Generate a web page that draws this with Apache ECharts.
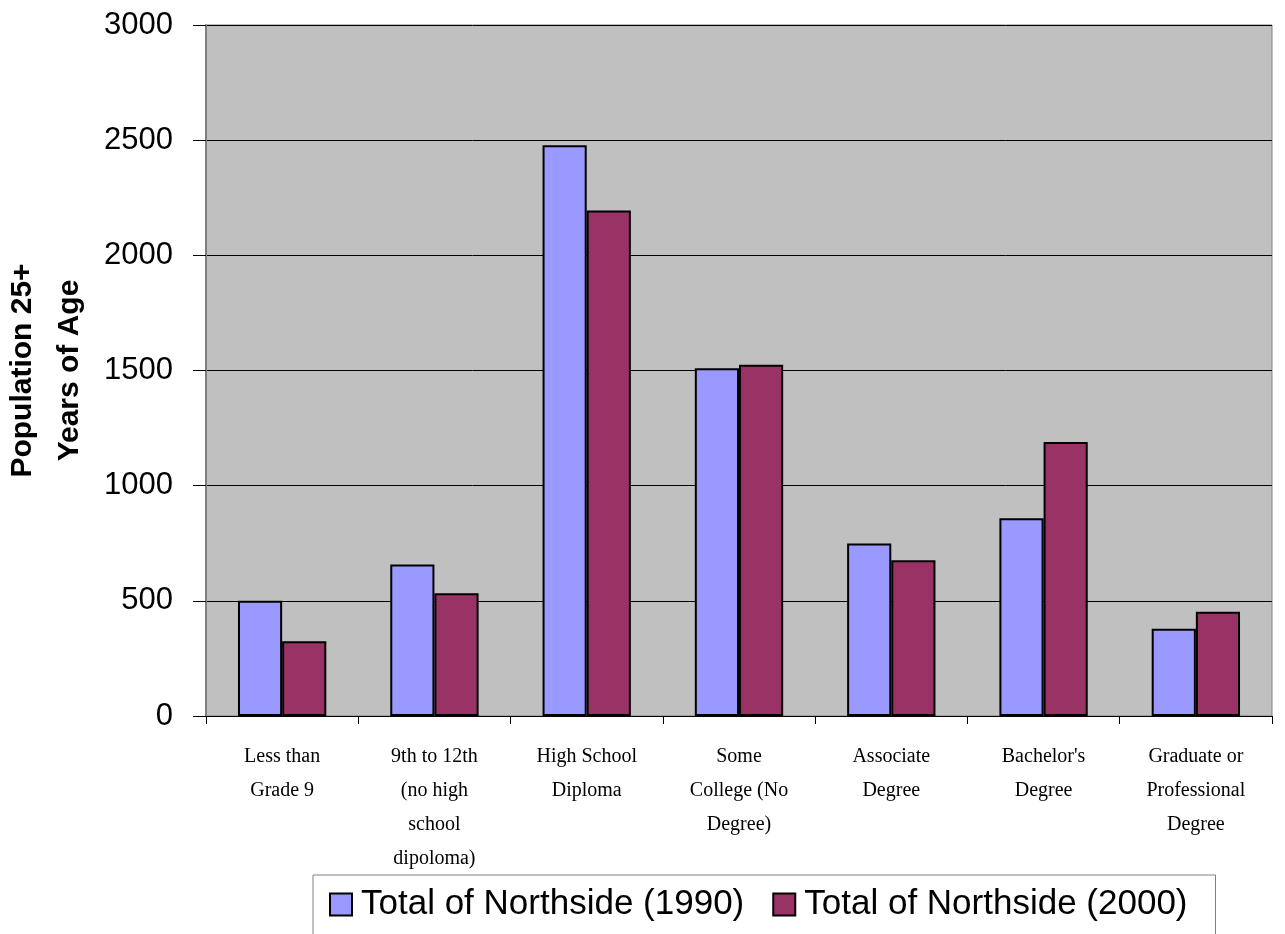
<!DOCTYPE html>
<html>
<head>
<meta charset="utf-8">
<script src="https://cdn.jsdelivr.net/npm/echarts@6/dist/echarts.min.js"></script>
<style>
html,body{margin:0;padding:0;background:#fff;}
#c{width:1285px;height:934px;}
</style>
</head>
<body>
<div id="c"></div>
<script>
const categories = [
  "Less than\nGrade 9",
  "9th to 12th\n(no high\nschool\ndipoloma)",
  "High School\nDiploma",
  "Some\nCollege (No\nDegree)",
  "Associate\nDegree",
  "Bachelor's\nDegree",
  "Graduate or\nProfessional\nDegree"
];
const seriesNames = ["Total of Northside (1990)", "Total of Northside (2000)"];
const values1990 = [500, 658, 2478, 1510, 749, 858, 379];
const values2000 = [325, 533, 2195, 1525, 676, 1190, 453];
const yTicks = [0, 500, 1000, 1500, 2000, 2500, 3000];
const yTitle = "Population 25+\nYears of Age";

const chart = echarts.init(document.getElementById('c'));
chart.setOption({
  animation: false,
  backgroundColor: '#ffffff',
  grid: {
    left: 206, right: 13, top: 25, bottom: 218,
    outerBoundsMode: 'none',
    containLabel: false,
    show: true, backgroundColor: '#C0C0C0', borderColor: '#808080', borderWidth: 1
  },
  legend: {
    left: 313, top: 875,
    padding: [12, 28, 40, 16],
    borderColor: '#808080', borderWidth: 1,
    itemWidth: 22, itemHeight: 22, itemGap: 28,
    icon: 'rect',
    itemStyle: { borderColor: '#000', borderWidth: 2 },
    textStyle: { fontFamily: 'Liberation Sans', fontSize: 35, color: '#000', padding: [0, 0, 0, 4] },
    data: seriesNames
  },
  xAxis: {
    type: 'category',
    data: categories,
    axisLine: { lineStyle: { color: '#000', width: 1 } },
    axisTick: { show: true, alignWithLabel: false, length: 8, lineStyle: { color: '#000' } },
    axisLabel: {
      interval: 0, margin: 24,
      fontFamily: 'Liberation Serif', fontSize: 20, lineHeight: 34, color: '#000'
    }
  },
  yAxis: {
    type: 'value',
    min: yTicks[0], max: yTicks[yTicks.length - 1], interval: 500,
    name: yTitle,
    nameLocation: 'middle',
    nameRotate: 90,
    nameGap: 100,
    nameTextStyle: { fontFamily: 'Liberation Sans', fontWeight: 'bold', fontSize: 30, lineHeight: 47, color: '#000' },
    axisLine: { show: true, lineStyle: { color: '#808080', width: 2 } },
    axisTick: { show: true, length: 13, lineStyle: { color: '#000' } },
    axisLabel: {
      margin: 33, fontFamily: 'Liberation Sans', fontSize: 31, color: '#000',
      formatter: function (v) { return String(v); }
    },
    splitLine: { show: true, lineStyle: { color: '#000', width: 1 } }
  },
  series: [
    {
      name: seriesNames[0], type: 'bar', data: values1990,
      barGap: '0%', barCategoryGap: '42%',
      itemStyle: { color: '#9999FF', borderColor: '#000', borderWidth: 2 }
    },
    {
      name: seriesNames[1], type: 'bar', data: values2000,
      barGap: '0%', barCategoryGap: '42%',
      itemStyle: { color: '#993366', borderColor: '#000', borderWidth: 2 }
    }
  ]
});
</script>
</body>
</html>
